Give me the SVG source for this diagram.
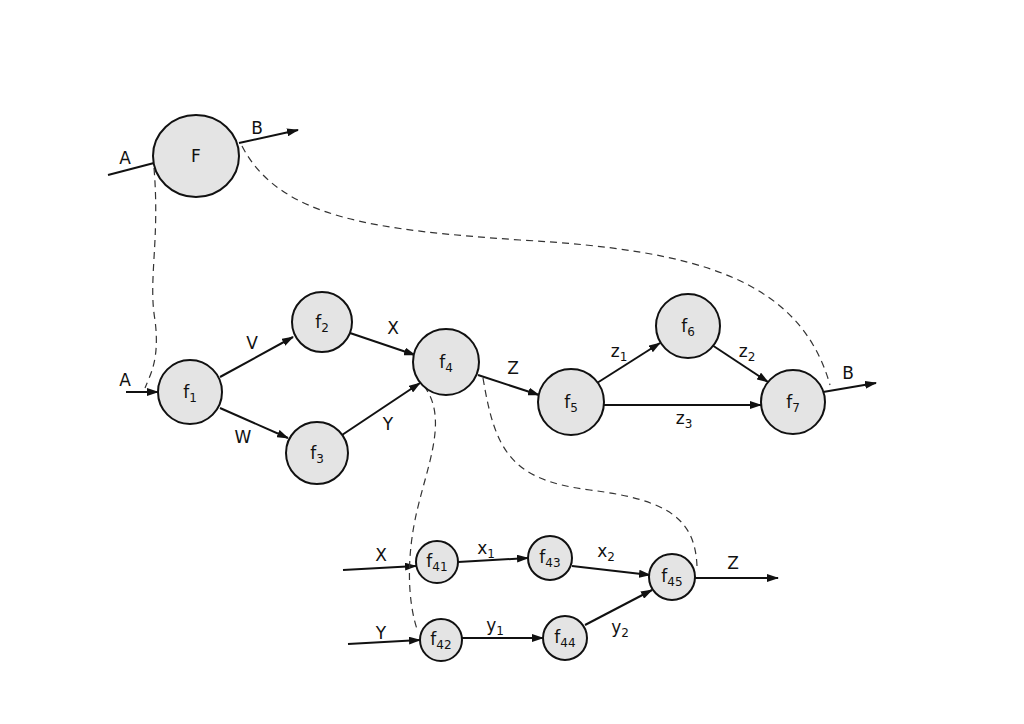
<svg xmlns="http://www.w3.org/2000/svg" width="1024" height="724" viewBox="0 0 1024 724">
<defs>
<marker id="ar" markerWidth="12" markerHeight="8" refX="11" refY="4" orient="auto" markerUnits="userSpaceOnUse"><path d="M0,0 L12,4 L0,8 Z" fill="#111"/></marker>
<style>
.n{fill:#e4e4e4;stroke:#111;stroke-width:2}
.e{stroke:#111;stroke-width:2;fill:none}
.a{stroke:#111;stroke-width:2;fill:none;marker-end:url(#ar)}
.d{stroke:#333;stroke-width:1.2;fill:none;stroke-dasharray:7,5}
text{font-family:"DejaVu Sans","Liberation Sans",sans-serif;font-size:17px;fill:#111;text-anchor:middle}
.s{font-size:12px}
</style>
</defs>
<rect width="1024" height="724" fill="#fff"/>
<g id="connectors">
<line class="e" x1="108" y1="175" x2="154" y2="163"/>
<line class="a" x1="239" y1="143" x2="298" y2="130"/>
<line class="a" x1="126" y1="392" x2="158" y2="392"/>
<line class="a" x1="220" y1="377" x2="293" y2="337"/>
<line class="a" x1="220" y1="408" x2="288" y2="438"/>
<line class="a" x1="350" y1="333" x2="415" y2="355"/>
<line class="a" x1="342" y1="435" x2="420" y2="383"/>
<line class="a" x1="478" y1="375" x2="539" y2="395"/>
<line class="a" x1="597" y1="383" x2="660" y2="343"/>
<line class="a" x1="712" y1="345" x2="768" y2="382"/>
<line class="a" x1="604" y1="405" x2="761" y2="405"/>
<line class="a" x1="823" y1="392" x2="876" y2="383"/>
<line class="a" x1="343" y1="570" x2="416" y2="566"/>
<line class="a" x1="348" y1="644" x2="420" y2="640"/>
<line class="a" x1="458" y1="562" x2="528" y2="558"/>
<line class="a" x1="572" y1="566" x2="650" y2="575"/>
<line class="a" x1="462" y1="638" x2="543" y2="638"/>
<line class="a" x1="585" y1="625" x2="652" y2="590"/>
<line class="a" x1="695" y1="578" x2="778" y2="578"/>
<path class="d" d="M154,168 C160,240 148,280 155,320 C160,360 150,375 145,388"/>
<path class="d" d="M242,146 C280,220 380,230 520,240 C700,250 800,280 830,385"/>
<path class="d" d="M424,386 C450,420 425,470 415,520 C405,570 410,610 418,632"/>
<path class="d" d="M483,378 C495,450 510,480 590,490 C670,500 695,520 697,566"/>
</g>
<g id="F"><ellipse class="n" cx="196" cy="156" rx="43" ry="41"/><text x="196" y="162">F</text></g>
<g id="f1"><circle class="n" cx="190" cy="392" r="32"/><text x="190" y="398">f<tspan class="s" dy="4">1</tspan></text></g>
<g id="f2"><circle class="n" cx="322" cy="322" r="30"/><text x="322" y="328">f<tspan class="s" dy="4">2</tspan></text></g>
<g id="f3"><circle class="n" cx="317" cy="453" r="31"/><text x="317" y="459">f<tspan class="s" dy="4">3</tspan></text></g>
<g id="f4"><circle class="n" cx="446" cy="362" r="33"/><text x="446" y="368">f<tspan class="s" dy="4">4</tspan></text></g>
<g id="f5"><circle class="n" cx="571" cy="402" r="33"/><text x="571" y="408">f<tspan class="s" dy="4">5</tspan></text></g>
<g id="f6"><circle class="n" cx="688" cy="326" r="32"/><text x="688" y="332">f<tspan class="s" dy="4">6</tspan></text></g>
<g id="f7"><circle class="n" cx="793" cy="402" r="32"/><text x="793" y="408">f<tspan class="s" dy="4">7</tspan></text></g>
<g id="f41"><circle class="n" cx="437" cy="562" r="21"/><text x="437" y="567">f<tspan class="s" dy="4">41</tspan></text></g>
<g id="f42"><circle class="n" cx="441" cy="640" r="21"/><text x="441" y="645">f<tspan class="s" dy="4">42</tspan></text></g>
<g id="f43"><circle class="n" cx="550" cy="558" r="22"/><text x="550" y="563">f<tspan class="s" dy="4">43</tspan></text></g>
<g id="f44"><circle class="n" cx="565" cy="638" r="22"/><text x="565" y="643">f<tspan class="s" dy="4">44</tspan></text></g>
<g id="f45"><circle class="n" cx="672" cy="577" r="23"/><text x="672" y="582">f<tspan class="s" dy="4">45</tspan></text></g>
<g id="labels">
<text x="125" y="164">A</text><text x="257" y="134">B</text>
<text x="125" y="386">A</text>
<text x="252" y="349">V</text><text x="243" y="443">W</text>
<text x="393" y="334">X</text><text x="388" y="430">Y</text>
<text x="513" y="374">Z</text>
<text x="619" y="357">z<tspan class="s" dy="4">1</tspan></text>
<text x="747" y="357">z<tspan class="s" dy="4">2</tspan></text>
<text x="684" y="424">z<tspan class="s" dy="4">3</tspan></text>
<text x="848" y="379">B</text>
<text x="381" y="561">X</text>
<text x="486" y="554">x<tspan class="s" dy="4">1</tspan></text>
<text x="606" y="557">x<tspan class="s" dy="4">2</tspan></text>
<text x="381" y="639">Y</text>
<text x="495" y="631">y<tspan class="s" dy="4">1</tspan></text>
<text x="620" y="633">y<tspan class="s" dy="4">2</tspan></text>
<text x="733" y="569">Z</text>
</g>
</svg>
